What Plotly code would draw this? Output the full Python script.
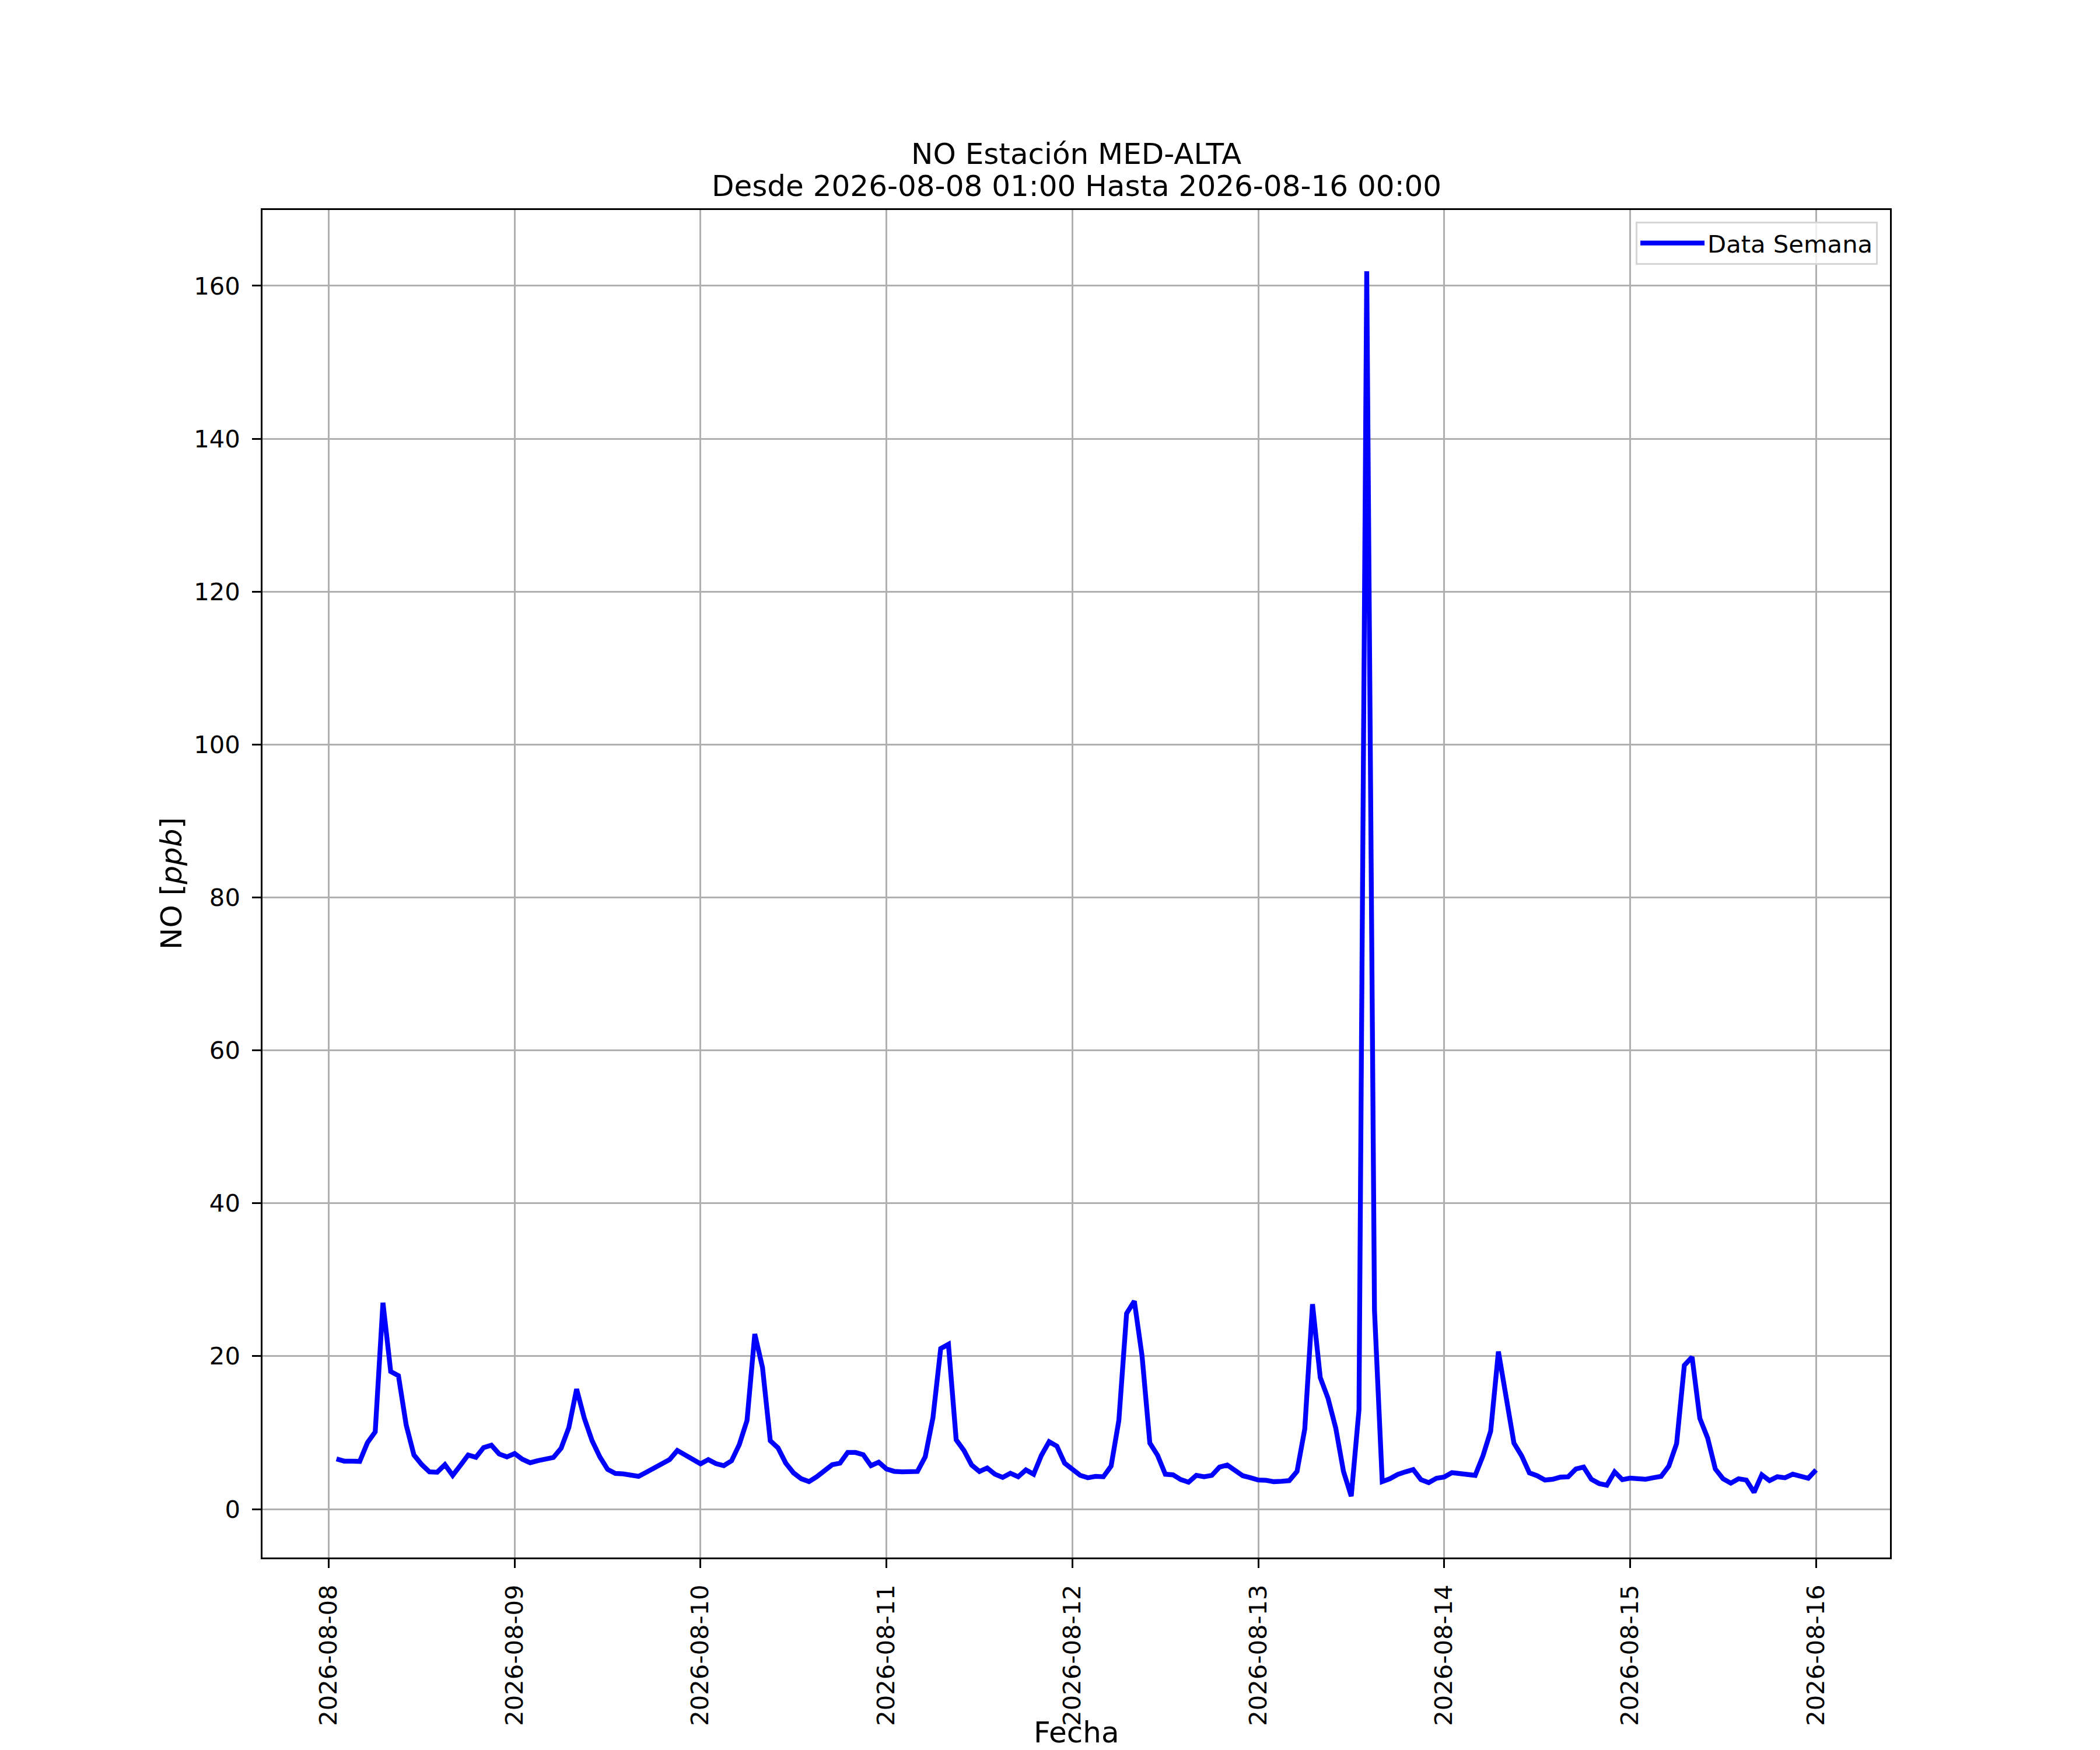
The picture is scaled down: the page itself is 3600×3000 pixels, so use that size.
import pandas as pd
import plotly.graph_objects as go

# hourly NO readings, one list per day (01:00 ... 24:00)
no_0808 = [6.57, 6.27, 6.27, 6.24, 8.69, 10.1, 27.0, 18.0, 17.45, 11.0, 7.08, 5.83,
           4.87, 4.82, 5.81, 4.41, 5.73, 7.08, 6.78, 8.05, 8.36, 7.21, 6.83, 7.26]
no_0809 = [6.52, 6.06, 6.34, 6.47, 6.75, 7.97, 10.67, 15.7, 11.87, 8.94, 6.83, 5.2,
           4.66, 4.61, 4.45, 4.28, 4.82, 5.38, 5.81, 6.47, 7.67, 7.08, 6.52, 5.92]
no_0810 = [6.47, 5.94, 5.68, 6.32, 8.43, 11.6, 22.9, 18.5, 8.94, 8.0, 6.01, 4.74,
           3.97, 3.59, 4.23, 5.12, 5.81, 6.01, 7.41, 7.41, 7.11, 5.68, 6.14, 5.25]
no_0811 = [4.94, 4.87, 4.87, 4.92, 6.83, 11.95, 21.0, 21.55, 9.07, 7.67, 5.76, 4.92,
           5.38, 4.56, 4.15, 4.69, 4.23, 5.12, 4.56, 7.03, 8.82, 8.23, 6.01, 5.2]
no_0812 = [4.42, 4.1, 4.28, 4.23, 5.63, 11.6, 25.6, 27.2, 20.0, 8.64, 7.03, 4.56,
           4.48, 3.85, 3.52, 4.41, 4.23, 4.41, 5.5, 5.76, 4.99, 4.36, 4.1, 3.8]
no_0813 = [3.77, 3.59, 3.64, 3.72, 4.92, 10.47, 26.8, 17.2, 14.5, 10.6, 4.92, 1.68,
           13.0, 161.9, 26.0, 3.59, 3.97, 4.53, 4.87, 5.17, 3.85, 3.46, 4.03, 4.2]
no_0814 = [4.76, 4.63, 4.48, 4.41, 6.96, 10.2, 20.6, 14.5, 8.64, 6.96, 4.74, 4.36,
           3.8, 3.9, 4.18, 4.23, 5.25, 5.5, 3.9, 3.34, 3.13, 4.87, 3.85, 4.05]
no_0815 = [3.97, 3.9, 4.1, 4.28, 5.63, 8.56, 18.8, 19.9, 11.87, 9.32, 5.25, 3.97,
           3.39, 3.97, 3.8, 2.19, 4.48, 3.72, 4.23, 4.1, 4.56, 4.36, 4.03, 5.12]

start = "2026-08-08 01:00"
end = "2026-08-16 00:00"
station = "MED-ALTA"
day_ticks = pd.date_range("2026-08-08", "2026-08-16", freq="D")

values = no_0808 + no_0809 + no_0810 + no_0811 + no_0812 + no_0813 + no_0814 + no_0815
fechas = pd.date_range(start, periods=len(values), freq="h")

FONT = "DejaVu Sans"
TICK = 41.7
LABEL = 50

fig = go.Figure()
fig.add_trace(go.Scatter(
    x=fechas, y=values, mode="lines", name="Data Semana",
    line=dict(color="blue", width=8.3),
))

# matplotlib-like 5% padding on both axes
span = fechas[-1] - fechas[0]
xr = [fechas[0] - span * 0.05, fechas[-1] + span * 0.05]
vmin, vmax = min(values), max(values)
pad = (vmax - vmin) * 0.05
yr = [vmin - pad, vmax + pad]

axis_common = dict(
    showline=True, linecolor="black", linewidth=3.3, mirror=True,
    ticks="outside", ticklen=14.6, tickwidth=3.3, tickcolor="black",
    showgrid=True, gridcolor="#b0b0b0", gridwidth=3.3,
    zeroline=False, tickfont=dict(family=FONT, size=TICK, color="black"),
    automargin=False, ticklabelstandoff=12,
)

fig.update_xaxes(
    range=xr, tickvals=day_ticks, tickformat="%Y-%m-%d", tickangle=-90,
    **axis_common,
)
fig.update_yaxes(range=yr, tick0=0, dtick=20, **axis_common)

# page has an 8px body margin, so the figure is 8px smaller than the window
fig.update_layout(
    width=3592, height=2992,
    margin=dict(l=442, r=360, t=352, b=330),
    template="none",
    paper_bgcolor="white", plot_bgcolor="white",
    font=dict(family=FONT, size=TICK, color="black"),
    showlegend=True,
    legend=dict(
        x=0.9925, y=0.9913, xanchor="right", yanchor="top",
        bgcolor="rgba(255,255,255,0.8)", bordercolor="#d5d5d5", borderwidth=3,
        itemwidth=110,
        font=dict(family=FONT, size=TICK, color="black"),
    ),
    annotations=[
        dict(text="NO Estación " + station, x=0.5, y=1, xref="paper", yref="paper",
             xanchor="center", yanchor="middle", yshift=96, showarrow=False,
             font=dict(family=FONT, size=LABEL)),
        dict(text="Desde " + start + " Hasta " + end, x=0.5, y=1, xref="paper", yref="paper",
             xanchor="center", yanchor="middle", yshift=41, showarrow=False,
             font=dict(family=FONT, size=LABEL)),
        dict(text="Fecha", x=0.5, y=0, xref="paper", yref="paper",
             xanchor="center", yanchor="middle", yshift=-300, showarrow=False,
             font=dict(family=FONT, size=LABEL)),
        dict(text="NO [<i>ppb</i>]", x=0, y=0.5, xref="paper", yref="paper",
             xanchor="center", yanchor="middle", xshift=-156, textangle=-90,
             showarrow=False, font=dict(family=FONT, size=LABEL)),
    ],
)

fig.write_html("out.html")
